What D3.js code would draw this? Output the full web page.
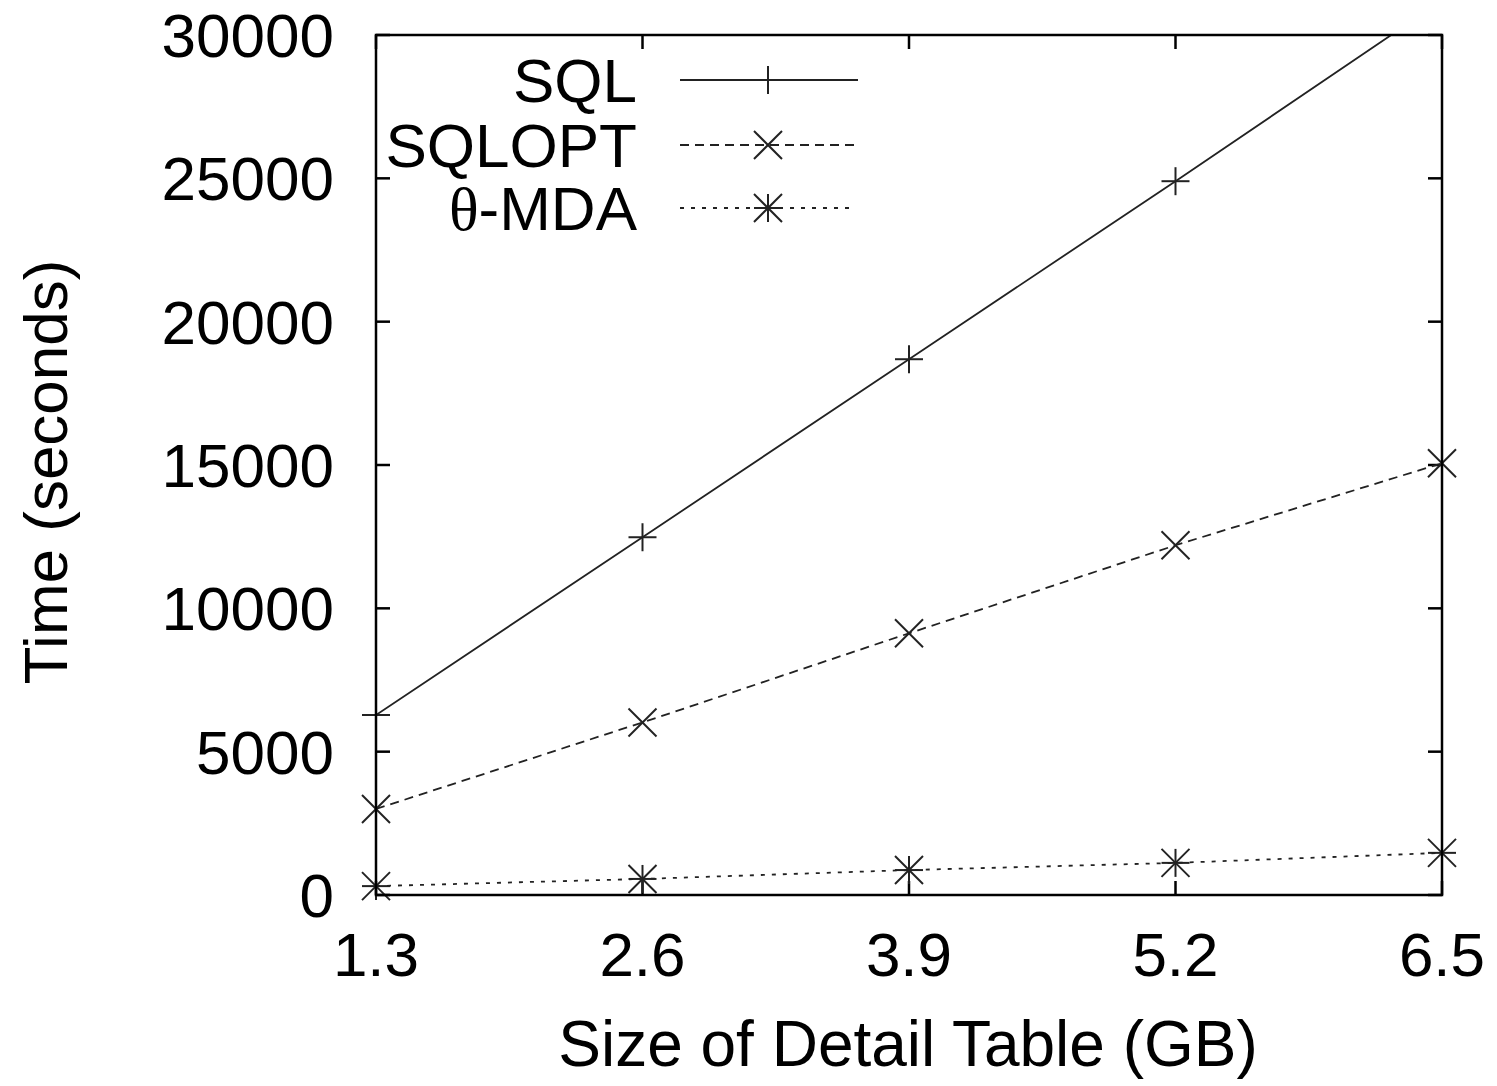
<!DOCTYPE html>
<html>
<head>
<meta charset="utf-8">
<script src="https://cdn.jsdelivr.net/npm/d3@7"></script>
<style>
  html, body { margin: 0; padding: 0; background: #fff; }
  svg { display: block; }
  text { font-family: "Liberation Sans", Arial, Helvetica, sans-serif; fill: #000; }
</style>
</head>
<body>
<svg id="chart" width="1497" height="1086"></svg>
<script>
// ---- data ----
const sizes = [1.3, 2.6, 3.9, 5.2, 6.5];
const xTickLabels = ["1.3", "2.6", "3.9", "5.2", "6.5"];
const yTicks = [0, 5000, 10000, 15000, 20000, 25000, 30000];
const sqlValues = [6280, 12480, 18690, 24900, 31200];
const sqloptValues = [3000, 6020, 9130, 12200, 15060];
const mdaValues = [310, 560, 870, 1120, 1470];
const seriesNames = ["SQL", "SQLOPT", "θ-MDA"];

(function () {
// ---- layout ----
const svg = d3.select("#chart");
const pLeft = 376, pRight = 1442, pTop = 35, pBottom = 895;
const x = d3.scaleLinear().domain([1.3, 6.5]).range([pLeft, pRight]);
const y = d3.scaleLinear().domain([0, 30000]).range([pBottom, pTop]);
const fontSize = 62;
const tickLen = 14;
const lineColor = "#222";

svg.append("defs").append("clipPath").attr("id", "plotclip")
  .append("rect").attr("x", pLeft).attr("y", pTop).attr("width", pRight - pLeft).attr("height", pBottom - pTop);

// ticks (inside, mirrored)
const tickG = svg.append("g").attr("stroke", "#000").attr("stroke-width", 2.5);
yTicks.forEach(v => {
  tickG.append("line").attr("x1", pLeft).attr("x2", pLeft + tickLen).attr("y1", y(v)).attr("y2", y(v));
  tickG.append("line").attr("x1", pRight).attr("x2", pRight - tickLen).attr("y1", y(v)).attr("y2", y(v));
});
sizes.forEach(v => {
  tickG.append("line").attr("x1", x(v)).attr("x2", x(v)).attr("y1", pBottom).attr("y2", pBottom - tickLen);
  tickG.append("line").attr("x1", x(v)).attr("x2", x(v)).attr("y1", pTop).attr("y2", pTop + tickLen);
});

// tick labels
svg.append("g").selectAll("text").data(yTicks).join("text")
  .attr("x", 334).attr("y", d => y(d) + 22)
  .attr("text-anchor", "end").attr("font-size", fontSize)
  .text(d => d);
svg.append("g").selectAll("text").data(sizes).join("text")
  .attr("x", d => x(d)).attr("y", 976)
  .attr("text-anchor", "middle").attr("font-size", fontSize)
  .text((d, i) => xTickLabels[i]);

// axis titles
svg.append("text").attr("x", 908).attr("y", 1066).attr("text-anchor", "middle")
  .attr("font-size", 64).text("Size of Detail Table (GB)");
svg.append("text").attr("transform", "translate(67,472) rotate(-90)").attr("text-anchor", "middle")
  .attr("font-size", fontSize).text("Time (seconds)");

// marker drawing
const S = 14;
function marker(g, type, cx, cy) {
  const p = [];
  if (type === "plus" || type === "star") {
    p.push([cx - S, cy, cx + S, cy], [cx, cy - S, cx, cy + S]);
  }
  if (type === "cross" || type === "star") {
    p.push([cx - S, cy - S, cx + S, cy + S], [cx - S, cy + S, cx + S, cy - S]);
  }
  p.forEach(a => g.append("line").attr("x1", a[0]).attr("y1", a[1]).attr("x2", a[2]).attr("y2", a[3])
    .attr("stroke", lineColor).attr("stroke-width", 2));
}

const series = [
  { name: seriesNames[0], values: sqlValues, dash: null, marker: "plus" },
  { name: seriesNames[1], values: sqloptValues, dash: "9,6", marker: "cross" },
  { name: seriesNames[2], values: mdaValues, dash: "4,7", marker: "star" }
];

const line = d3.line().x((d, i) => x(sizes[i])).y(d => y(d));
const plotG = svg.append("g").attr("clip-path", "url(#plotclip)");
series.forEach(s => {
  plotG.append("path").datum(s.values).attr("d", line)
    .attr("fill", "none").attr("stroke", lineColor).attr("stroke-width", 1.8)
    .attr("stroke-dasharray", s.dash);
});
const markG = svg.append("g");
series.forEach(s => {
  s.values.forEach((v, i) => {
    if (v <= 30000) marker(markG, s.marker, x(sizes[i]), y(v));
  });
});

// frame
svg.append("rect").attr("x", pLeft).attr("y", pTop).attr("width", pRight - pLeft).attr("height", pBottom - pTop)
  .attr("fill", "none").attr("stroke", "#000").attr("stroke-width", 2.5);

// legend
const legRows = [80, 145, 208];
const legEnd = [858, 858, 850];
series.forEach((s, i) => {
  const ly = legRows[i];
  const t = svg.append("text").attr("x", 637).attr("y", ly + 22).attr("text-anchor", "end").attr("font-size", fontSize);
  if (s.name.startsWith("θ")) {
    t.append("tspan").attr("style", 'font-family:"Liberation Serif", serif').text("θ");
    t.append("tspan").text(s.name.slice(1));
  } else {
    t.text(s.name);
  }
  svg.append("line").attr("x1", 680).attr("x2", legEnd[i]).attr("y1", ly).attr("y2", ly)
    .attr("stroke", lineColor).attr("stroke-width", 1.8).attr("stroke-dasharray", s.dash);
  marker(svg, s.marker, 768, ly);
});
})();
</script>
</body>
</html>
